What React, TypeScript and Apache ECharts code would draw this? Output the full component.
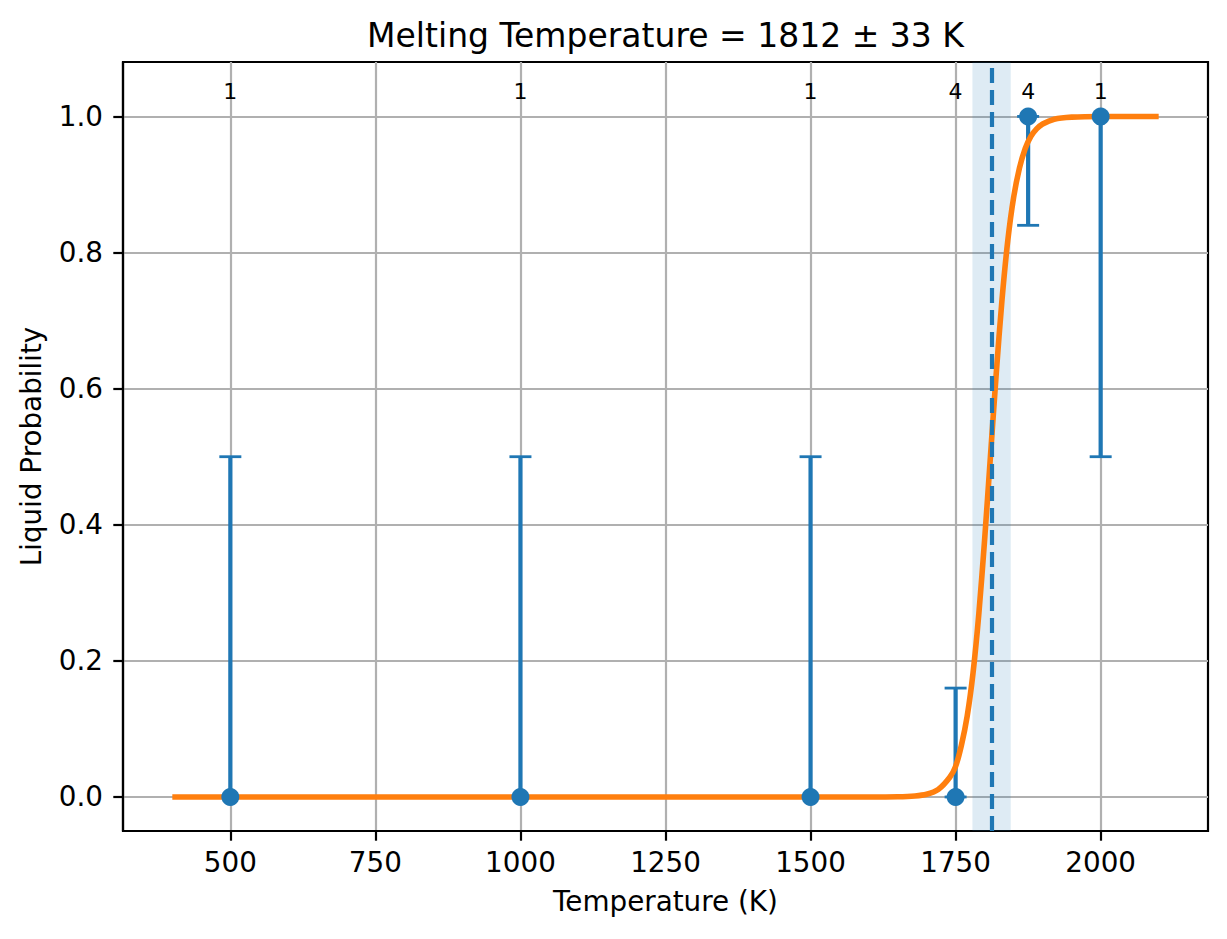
import React, { useEffect, useRef } from "react";
import * as echarts from "echarts";

// Measured data points (temperature, liquid probability, error bar ends, run counts)
const TEMPS = [500, 1000, 1500, 1750, 1875, 2000];
const PROB = [0, 0, 0, 0, 1, 1];
const ERR_LOW = [0, 0, 0, 0, 0.84, 0.5];
const ERR_HIGH = [0.5, 0.5, 0.5, 0.16, 1, 1];
const COUNTS = [1, 1, 1, 4, 4, 1];

// Fitted curve
const FIT_T = [400, 1600, 1650, 1680, 1700, 1720, 1740, 1750, 1760, 1770, 1780, 1790, 1800, 1810, 1820, 1830, 1840, 1850, 1860, 1870, 1880, 1890, 1900, 1920, 1950, 2000, 2100];
const FIT_P = [0, 0.0, 0.0003, 0.0015, 0.004, 0.011, 0.029, 0.045, 0.076, 0.119, 0.182, 0.269, 0.378, 0.5, 0.622, 0.731, 0.818, 0.881, 0.924, 0.953, 0.971, 0.982, 0.989, 0.996, 0.999, 1.0, 1.0];

const MELT_T = 1812;
const MELT_ERR = 33;

const X_TICKS = [500, 750, 1000, 1250, 1500, 1750, 2000];
const Y_TICKS = [0, 0.2, 0.4, 0.6, 0.8, 1.0];

const TITLE = `Melting Temperature = ${MELT_T} ± ${MELT_ERR} K`;

const FONT = "DejaVu Sans";
const BLUE = "#1f77b4";
const ORANGE = "#ff7f0e";

export default function App() {
  const ref = useRef<HTMLDivElement>(null);

  useEffect(() => {
    if (!ref.current) return;
    const chart = echarts.init(ref.current, undefined, { renderer: "svg" });

    const errData = TEMPS.map((t, i) => [t, ERR_LOW[i], ERR_HIGH[i]]);
    const ptData = TEMPS.map((t, i) => [t, PROB[i]]);
    const cntData = TEMPS.map((t, i) => [t, 1.036, COUNTS[i]]);
    const fitData = FIT_T.map((t, i) => [t, FIT_P[i]]);

    const option: any = {
      animation: false,
      backgroundColor: "#fff",
      textStyle: { fontFamily: FONT },
      grid: {
        left: 123,
        right: 19,
        top: 62,
        bottom: 108,
        show: true,
        borderColor: "#000",
        borderWidth: 2.2,
        backgroundColor: "transparent",
        outerBoundsMode: "none",
        containLabel: false,
      },
      graphic: [
        {
          type: "text",
          x: 665.5,
          y: 35,
          style: {
            text: TITLE,
            fontFamily: FONT,
            fontSize: 33,
            fill: "#000",
            textAlign: "center",
            textVerticalAlign: "middle",
          },
        },
      ],
      xAxis: {
        type: "value",
        min: 315,
        max: 2185,
        name: "Temperature (K)",
        nameLocation: "middle",
        nameGap: 56,
        nameTextStyle: { fontSize: 27.8, color: "#000", fontFamily: FONT },
        axisLine: { show: true, onZero: false, lineStyle: { color: "#000", width: 2.2 } },
        axisTick: {
          show: true,
          length: 9.7,
          lineStyle: { color: "#000", width: 2.2 },
          customValues: X_TICKS,
        },
        axisLabel: {
          show: true,
          fontSize: 27.8,
          color: "#000",
          fontFamily: FONT,
          margin: 17,
          customValues: X_TICKS,
          formatter: (v: number) => String(Math.round(v)),
        },
        splitLine: { show: true, lineStyle: { color: "#b0b0b0", width: 2.2 } },
      },
      yAxis: {
        type: "value",
        min: -0.05,
        max: 1.08,
        name: "Liquid Probability",
        nameLocation: "middle",
        nameGap: 78,
        nameTextStyle: { fontSize: 27.8, color: "#000", fontFamily: FONT },
        axisLine: { show: true, onZero: false, lineStyle: { color: "#000", width: 2.2 } },
        axisTick: {
          show: true,
          length: 9.7,
          lineStyle: { color: "#000", width: 2.2 },
          customValues: Y_TICKS,
        },
        axisLabel: {
          show: true,
          fontSize: 27.8,
          color: "#000",
          fontFamily: FONT,
          margin: 20,
          customValues: Y_TICKS,
          formatter: (v: number) => v.toFixed(1),
        },
        splitLine: { show: true, lineStyle: { color: "#b0b0b0", width: 2.2 } },
      },
      series: [
        {
          type: "custom",
          name: "band",
          z: 1,
          silent: true,
          data: [[MELT_T - MELT_ERR, MELT_T + MELT_ERR]],
          renderItem: (params: any, api: any) => {
            const a = api.coord([api.value(0), 1.08]);
            const b = api.coord([api.value(1), -0.05]);
            return {
              type: "rect",
              shape: { x: a[0], y: a[1], width: b[0] - a[0], height: b[1] - a[1] },
              style: { fill: "rgba(31,119,180,0.15)" },
            };
          },
        },
        {
          type: "custom",
          name: "errorbars",
          z: 2,
          silent: true,
          data: errData,
          renderItem: (params: any, api: any) => {
            const x = api.value(0);
            const lo = api.coord([x, api.value(1)]);
            const hi = api.coord([x, api.value(2)]);
            const cap = 11;
            const ls = { stroke: BLUE, lineWidth: 4.2 };
            const cs = { stroke: BLUE, lineWidth: 2.8 };
            return {
              type: "group",
              children: [
                { type: "line", shape: { x1: lo[0], y1: lo[1], x2: hi[0], y2: hi[1] }, style: ls },
                { type: "line", shape: { x1: lo[0] - cap, y1: lo[1], x2: lo[0] + cap, y2: lo[1] }, style: cs },
                { type: "line", shape: { x1: hi[0] - cap, y1: hi[1], x2: hi[0] + cap, y2: hi[1] }, style: cs },
              ],
            };
          },
        },
        {
          type: "line",
          name: "fit",
          z: 3,
          data: fitData,
          showSymbol: false,
          symbol: "none",
          smooth: 0.3,
          lineStyle: { color: ORANGE, width: 5.6 },
          itemStyle: { color: ORANGE },
        },
        {
          type: "scatter",
          name: "points",
          z: 4,
          data: ptData,
          symbol: "circle",
          symbolSize: 18,
          itemStyle: { color: BLUE, opacity: 1 },
        },
        {
          type: "line",
          name: "melt",
          z: 5,
          data: [],
          markLine: {
            silent: true,
            symbol: ["none", "none"],
            label: { show: false },
            lineStyle: { color: BLUE, width: 4.2, type: [15, 7] },
            data: [{ xAxis: MELT_T }],
          },
        },
        {
          type: "custom",
          name: "counts",
          z: 6,
          silent: true,
          data: cntData,
          renderItem: (params: any, api: any) => {
            const p = api.coord([api.value(0), api.value(1)]);
            return {
              type: "text",
              x: p[0],
              y: p[1],
              style: {
                text: String(api.value(2)),
                fontFamily: FONT,
                fontSize: 22,
                fill: "#000",
                textAlign: "center",
                textVerticalAlign: "middle",
              },
            };
          },
        },
      ],
    };

    chart.setOption(option);
    return () => chart.dispose();
  }, []);

  return (
    <div
      ref={ref}
      style={{ position: "fixed", left: 0, top: 0, width: 1227, height: 939, background: "#fff" }}
    />
  );
}
